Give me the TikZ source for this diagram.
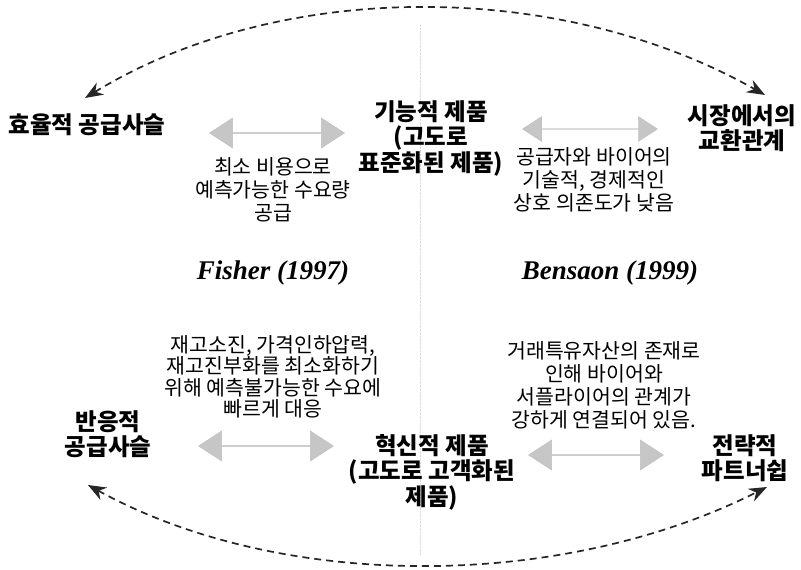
\documentclass[tikz,border=0pt]{standalone}
\usepackage{fontspec}
\setmainfont{Noto Sans CJK KR}
\newfontfamily\refserif{Liberation Serif}
\usetikzlibrary{arrows.meta, shapes.arrows}

\begin{document}
\begin{tikzpicture}[x=1pt, y=-1pt, >={Stealth[length=18pt, width=14pt]},
	head/.style={font=\fontsize{23.5}{25.5}\selectfont\bfseries, align=center, inner sep=0pt},
	note/.style={font=\fontsize{20.5}{23}\selectfont, align=center, inner sep=0pt},
	cite/.style={font=\fontsize{27}{30}\selectfont\refserif\itshape\bfseries, inner sep=0pt},
	link/.style={double arrow, fill=gray!45, draw=gray!50, minimum width=30pt, minimum height=135pt,
		double arrow head extend=7pt, double arrow tip angle=66, inner sep=0pt},
	swing/.style={<->, dash pattern=on 7pt off 5pt, line width=1.7pt, black!85}]
		\useasboundingbox (0, 0) rectangle (801, 570);
		\draw[gray!30, densely dotted] (420, 25) -- (420, 555);
		
		\node[head] (eff) at (87, 125) {효율적 공급사슬};
		\node[head] (fun) at (431, 138) {기능적 제품\\(고도로\\표준화된 제품)};
		\node[head] (mkt) at (742, 128) {시장에서의\\교환관계};
		\node[note] (d1) at (273, 190) {최소 비용으로\\예측가능한 수요량\\공급};
		\node[note] (d2) at (594, 180) {공급자와 바이어의\\기술적, 경제적인\\상호 의존도가 낮음};
		\node[link] (a1) at (277, 133) {};
		\node[link, minimum width=25pt, double arrow head extend=5pt] (a2) at (590, 129) {};
		
		\node[cite] (fisher) at (273, 273) {Fisher (1997)};
		\node[cite] (bensaon) at (610, 273) {Bensaon (1999)};
		
		\node[head] (resp) at (108, 434) {반응적\\공급사슬};
		\node[head] (inno) at (432, 472) {혁신적 제품\\(고도로 고객화된\\제품)};
		\node[head] (part) at (745, 458) {전략적\\파트너쉽};
		\node[note, font=\fontsize{20.5}{21.5}\selectfont] (d3) at (273, 377) {재고소진, 가격인하압력,\\재고진부화를 최소화하기\\위해 예측불가능한 수요에\\빠르게 대응};
		\node[note] (d4) at (604, 385) {거래특유자산의 존재로\\인해 바이어와\\서플라이어의 관계가\\강하게 연결되어 있음.};
		\node[link] (a3) at (266, 446) {};
		\node[link] (a4) at (596, 455) {};
		
		\coordinate (tl) at (85, 98);
		\coordinate (tr) at (765, 95);
		\coordinate (bl) at (88, 485);
		\coordinate (br) at (767, 487);
		\draw[swing] (tl) .. controls (280, -21) and (560, -21) .. (tr);
		\draw[swing] (bl) .. controls (280, 591) and (560, 591) .. (br);
	\end{tikzpicture}
\end{document}
